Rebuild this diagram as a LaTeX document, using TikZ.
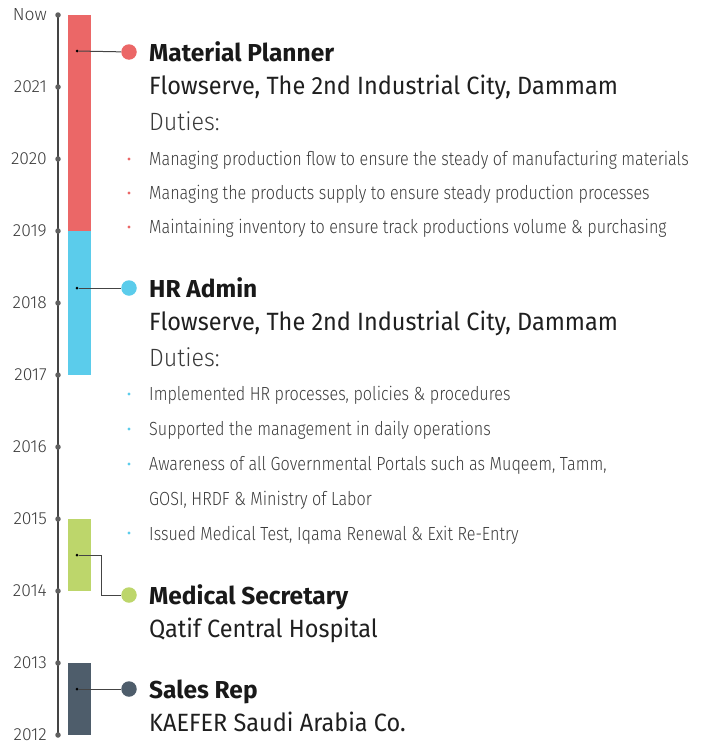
\documentclass[tikz,border=0pt]{standalone}
\usepackage{fontspec}
\setmainfont{Fira Sans}
\IfFontExistsTF{Fira Sans Light}{\newcommand\lightname{Fira Sans Light}}{\newcommand\lightname{Fira Sans}}
\newfontfamily\placefont{Fira Sans}[FakeStretch=0.94]
\newfontfamily\dutyfont{\lightname}[FakeStretch=0.85]
\newfontfamily\headfont{\lightname}[FakeStretch=0.93]
\newfontfamily\yearfont{\lightname}
\usetikzlibrary{positioning}
\definecolor{planred}{HTML}{EB6767}
\definecolor{hrblue}{HTML}{5BCCEB}
\definecolor{medgreen}{HTML}{BDD66B}
\definecolor{salesgray}{HTML}{4E5D6B}
\definecolor{axisgray}{HTML}{444444}
\definecolor{textgray}{HTML}{3A3A3A}
\tikzset{yearlabel/.style={anchor=base east, inner sep=0pt, text=textgray, font=\yearfont\fontsize{17.5}{17.5}\selectfont},
	yeardot/.style={circle, fill=axisgray!85, inner sep=0pt, minimum size=5.5},
	pindot/.style={circle, fill=black, inner sep=0pt, minimum size=3},
	jobdot/.style={circle, inner sep=0pt, minimum size=15.5},
	jobtitle/.style={anchor=base west, inner sep=0pt, text=black!90, font=\bfseries\fontsize{24.5}{24.5}\selectfont},
	jobplace/.style={anchor=base west, inner sep=0pt, text=black!88, font=\placefont\fontsize{25}{25}\selectfont},
	dutyhead/.style={anchor=base west, inner sep=0pt, text=textgray, font=\headfont\fontsize{25}{25}\selectfont},
	duty/.style={anchor=base west, inner sep=0pt, text=textgray, font=\dutyfont\fontsize{19}{19}\selectfont},
	bulletdot/.style={circle, inner sep=0pt, minimum size=3.2}}

\begin{document}
\begin{tikzpicture}[x=1pt, y=-1pt]
	\useasboundingbox (0,0) rectangle (705,744);
	% time axis
	\draw[axisgray, line width=1.2pt] (58,15) -- (58,735);
	\foreach \yr [count=\i from 0] in {Now,2021,2020,2019,2018,2017,2016,2015,2014,2013,2012}{
		\node[yeardot] (t\i) at (58,15+72*\i) {};
		\node[yearlabel] (y\i) at (47,20.5+72*\i) {\yr};
	}
	% job bars
	\fill[planred] (68,15) rectangle (91,231);
	\fill[hrblue] (68,231) rectangle (91,375);
	\fill[medgreen] (68,519) rectangle (91,591);
	\fill[salesgray] (68,663) rectangle (91,735);
	% material planner
	\node[pindot] (p1) at (77,51) {};
	\node[jobdot, fill=planred] (c1) at (129,52) {};
	\draw[axisgray, line width=1pt] (p1) -- (c1);
	\node[jobtitle] (j1) at (149,61) {Material Planner};
	\node[jobplace] (w1) at (149,94) {Flowserve, The 2nd Industrial City, Dammam};
	\node[dutyhead] (d1) at (149,130) {Duties:};
	\foreach \txt [count=\k from 0] in {Managing production flow to ensure the steady of manufacturing materials,
		Managing the products supply to ensure steady production processes,
		Maintaining inventory to ensure track productions volume \& purchasing}{
		\node[bulletdot, fill=planred] (b1\k) at (129,159+34*\k) {};
		\node[duty] (l1\k) at (149,165.5+34*\k) {\txt};
	}
	% hr admin
	\node[pindot] (p2) at (77,288) {};
	\node[jobdot, fill=hrblue] (c2) at (129,288) {};
	\draw[axisgray, line width=1pt] (p2) -- (c2);
	\node[jobtitle] (j2) at (149,297) {HR Admin};
	\node[jobplace] (w2) at (149,330) {Flowserve, The 2nd Industrial City, Dammam};
	\node[dutyhead] (d2) at (149,366) {Duties:};
	\node[bulletdot, fill=hrblue] (b20) at (129,394) {};
	\node[duty] (l20) at (149,400.5) {Implemented HR processes, policies \& procedures};
	\node[bulletdot, fill=hrblue] (b21) at (129,429) {};
	\node[duty] (l21) at (149,435.5) {Supported the management in daily operations};
	\node[bulletdot, fill=hrblue] (b22) at (129,464) {};
	\node[duty] (l22) at (149,470) {Awareness of all Governmental Portals such as Muqeem, Tamm,};
	\node[duty] (l23) at (149,505) {GOSI, HRDF \& Ministry of Labor};
	\node[bulletdot, fill=hrblue] (b24) at (129,533) {};
	\node[duty] (l24) at (149,540) {Issued Medical Test, Iqama Renewal \& Exit Re-Entry};
	% medical secretary
	\node[pindot] (p3) at (77,555) {};
	\node[jobdot, fill=medgreen] (c3) at (129,595) {};
	\draw[axisgray, line width=1pt] (p3) -- ++(24,0) |- (c3);
	\node[jobtitle] (j3) at (149,604) {Medical Secretary};
	\node[jobplace] (w3) at (149,637) {Qatif Central Hospital};
	% sales rep
	\node[pindot] (p4) at (77,689) {};
	\node[jobdot, fill=salesgray] (c4) at (129,689) {};
	\draw[axisgray, line width=1pt] (p4) -- (c4);
	\node[jobtitle] (j4) at (149,698) {Sales Rep};
	\node[jobplace] (w4) at (149,731) {KAEFER Saudi Arabia Co.};
\end{tikzpicture}
\end{document}
